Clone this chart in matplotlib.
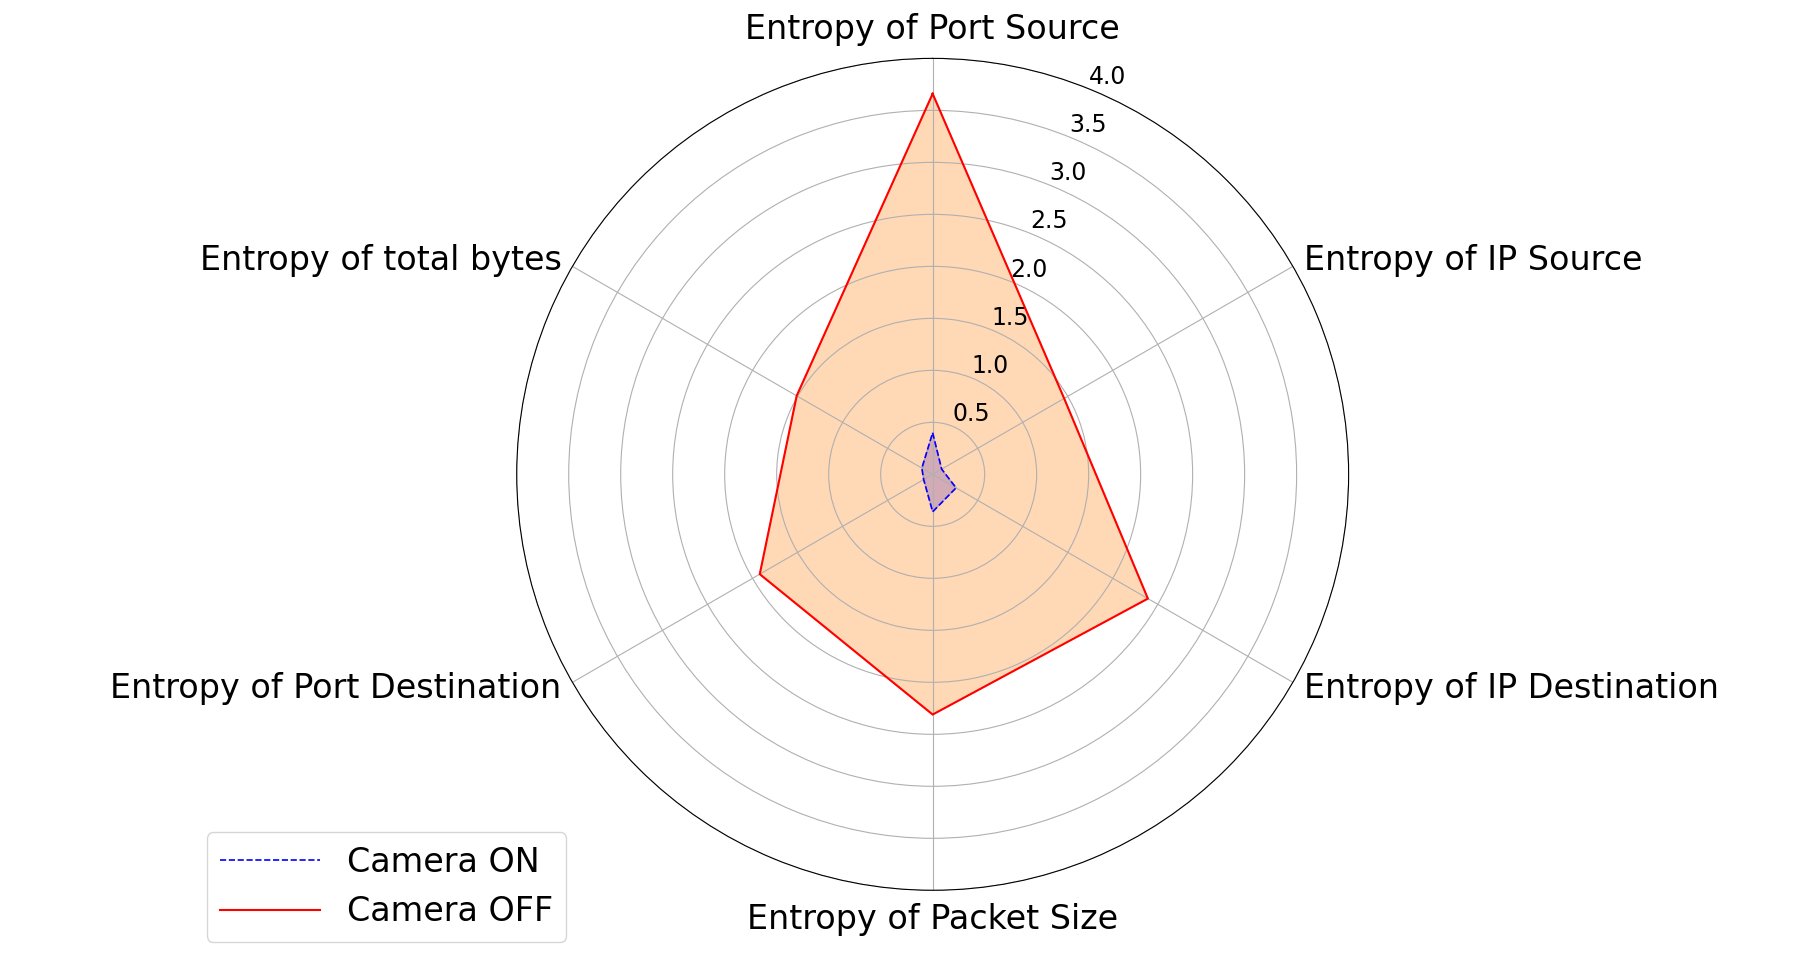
import numpy as np
import matplotlib.pyplot as plt

categories = ['Entropy of Port Source', 'Entropy of IP Source', 'Entropy of IP Destination',
              'Entropy of Packet Size', 'Entropy of Port Destination', 'Entropy of total bytes']
camera_on = [0.40, 0.10, 0.26, 0.36, 0.10, 0.12]
camera_off = [3.66, 1.46, 2.39, 2.31, 1.92, 1.51]
r_ticks = [0.5, 1.0, 1.5, 2.0, 2.5, 3.0, 3.5, 4.0]

angles = np.linspace(0, 2 * np.pi, len(categories), endpoint=False).tolist()
angles += angles[:1]
on = camera_on + camera_on[:1]
off = camera_off + camera_off[:1]

fig = plt.figure(figsize=(18.11, 9.73), dpi=100)
ax = fig.add_axes([0.285, 0.085, 0.46, 0.855], polar=True)
ax.set_theta_offset(np.pi / 2)
ax.set_theta_direction(-1)

ax.plot(angles, on, '--', color='blue', linewidth=1.2, label='Camera ON')
ax.fill(angles, on, color='blue', alpha=0.25)
ax.plot(angles, off, '-', color='red', linewidth=1.5, label='Camera OFF')
ax.fill(angles, off, color='C1', alpha=0.3)

ax.set_xticks(angles[:-1])
ax.set_xticklabels([])
ax.set_ylim(0, 4.0)
ax.set_yticks(r_ticks)
ax.set_yticklabels([str(t) for t in r_ticks], fontsize=17)
ax.set_rlabel_position(22)

# category labels, aligned outward like the original
aligns = [('center', 'bottom'), ('left', 'center'), ('left', 'center'),
          ('center', 'top'), ('right', 'center'), ('right', 'center')]
for ang, lab, (ha, va) in zip(angles[:-1], categories, aligns):
    ax.text(ang, 4.12, lab, fontsize=24, ha=ha, va=va)

fig.legend(loc='lower left', bbox_to_anchor=(0.105, 0.015), fontsize=24, handlelength=3)
fig.savefig('out.png')
